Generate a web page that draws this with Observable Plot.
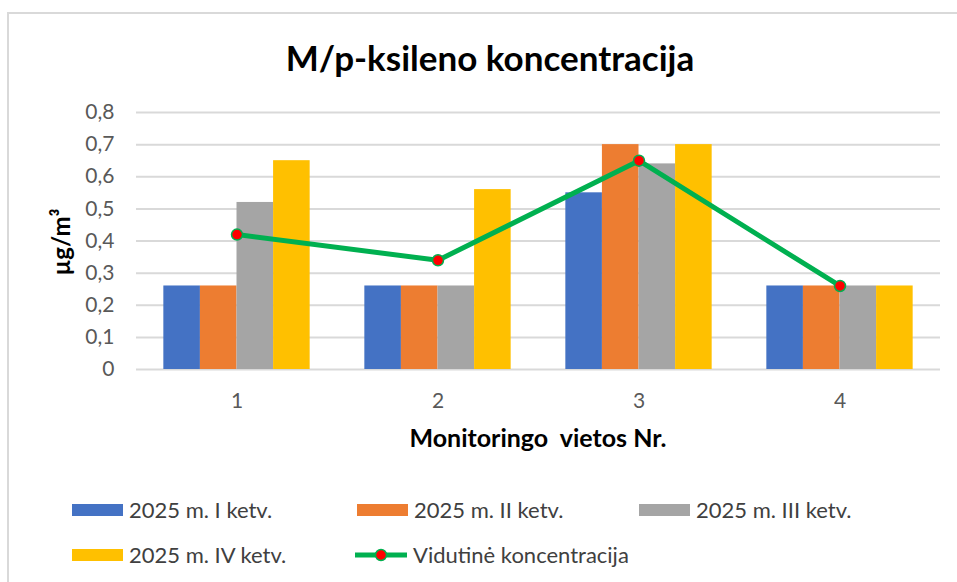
<!DOCTYPE html>
<html>
<head>
<meta charset="utf-8">
<script src="https://cdn.jsdelivr.net/npm/d3@7"></script>
<script src="https://cdn.jsdelivr.net/npm/@observablehq/plot@0.6"></script>
<style>
  html, body { margin: 0; padding: 0; background: #fff; }
  #wrap { position: relative; width: 957px; height: 582px; overflow: hidden; font-family: Lato, "Open Sans", sans-serif; }
  #frame { position: absolute; left: 7px; top: 12px; width: 980px; height: 620px; border: 2px solid #d9d9d9; box-sizing: border-box; }
  #title { position: absolute; left: 0; width: 980px; top: 36px; text-align: center; font-weight: bold; font-size: 35px; color: #000; line-height: 1.2; }
  #plot { position: absolute; left: 0; top: 0; }
  #ylab { position: absolute; left: 60px; top: 242px; transform: translate(-50%, -50%) rotate(-90deg); font-weight: bold; font-size: 24px; color: #000; white-space: nowrap; }
  #xlab { position: absolute; left: 538px; top: 422px; transform: translateX(-50%); font-weight: bold; font-size: 25px; line-height: 1.2; color: #000; white-space: pre; }
  .leg { position: absolute; display: flex; align-items: center; font-size: 22px; color: #404040; white-space: nowrap; }
  .sw { width: 51px; height: 12px; margin-right: 6px; }
</style>
</head>
<body>
<div id="wrap">
  <div id="frame"></div>
  <div id="title">M/p-ksileno koncentracija</div>
  <div id="plot"></div>
  <div id="ylab">µg/m³</div>
  <div id="xlab">Monitoringo  vietos Nr.</div>
  <div id="legend"></div>
</div>
<script>
// Data
const groups = [1, 2, 3, 4];
const seriesNames = ["2025 m. I ketv.", "2025 m. II ketv.", "2025 m. III ketv.", "2025 m. IV ketv."];
const seriesColors = ["#4472C4", "#ED7D31", "#A5A5A5", "#FFC000"];
const q1 = [0.26, 0.26, 0.55, 0.26];
const q2 = [0.26, 0.26, 0.70, 0.26];
const q3 = [0.52, 0.26, 0.64, 0.26];
const q4 = [0.65, 0.56, 0.70, 0.26];
const averageName = "Vidutinė koncentracija";
const average = [0.42, 0.34, 0.65, 0.26];
const yTicks = [0, 0.1, 0.2, 0.3, 0.4, 0.5, 0.6, 0.7, 0.8];

const seriesValues = [q1, q2, q3, q4];
const barWidth = 0.182;
const bars = [];
seriesValues.forEach((vals, i) => {
  vals.forEach((v, j) => {
    bars.push({group: groups[j], series: seriesNames[i], i, value: v});
  });
});
const avgData = groups.map((g, j) => ({group: g, value: average[j]}));

const fmt = d => d === 0 ? "0" : d.toFixed(1).replace(".", ",");

const chart = Plot.plot({
  width: 957,
  height: 460,
  marginTop: 112,
  marginBottom: 91,
  marginLeft: 136,
  marginRight: 17,
  style: {fontFamily: "Lato, 'Open Sans', sans-serif", fontSize: "21px", background: "transparent"},
  x: {domain: [0.5, 4.5], ticks: groups, tickFormat: d => String(d), tickSize: 0, tickPadding: 24, label: null},
  y: {domain: [0, 0.8], ticks: yTicks, tickFormat: fmt, tickSize: 0, tickPadding: 22, label: null},
  color: {domain: seriesNames, range: seriesColors},
  marks: [
    Plot.gridY(yTicks, {stroke: "#d9d9d9", strokeOpacity: 1, strokeWidth: 2}),
    Plot.rectY(bars, {
      x1: d => d.group - 2 * barWidth + d.i * barWidth,
      x2: d => d.group - 2 * barWidth + (d.i + 1) * barWidth,
      y1: 0,
      y2: "value",
      fill: "series",
      inset: 0
    }),
    Plot.line(avgData, {x: "group", y: "value", stroke: "#00B050", strokeWidth: 5}),
    Plot.dot(avgData, {x: "group", y: "value", r: 5.5, fill: "#FF0000", stroke: "#00B050", strokeWidth: 1.5})
  ]
});
chart.querySelectorAll('[aria-label="x-axis tick label"], [aria-label="y-axis tick label"]').forEach(g => g.setAttribute("fill", "#595959"));
document.getElementById("plot").appendChild(chart);

// Legend
const legend = document.getElementById("legend");
const pos = [[72, 510], [357, 510], [639, 510], [72, 555]];
seriesNames.forEach((name, i) => {
  const item = document.createElement("div");
  item.className = "leg";
  item.style.left = pos[i][0] + "px";
  item.style.top = (pos[i][1] - 14) + "px";
  item.innerHTML = `<div class="sw" style="background:${seriesColors[i]}"></div><span>${name}</span>`;
  legend.appendChild(item);
});
const li = document.createElement("div");
li.className = "leg";
li.style.left = "355px";
li.style.top = (555 - 14) + "px";
li.innerHTML = `<svg width="52" height="14" style="margin-right:6px"><line x1="0" y1="7" x2="52" y2="7" stroke="#00B050" stroke-width="5"/><circle cx="26" cy="7" r="5.5" fill="#FF0000" stroke="#00B050" stroke-width="1.5"/></svg><span>${averageName}</span>`;
legend.appendChild(li);
</script>
</body>
</html>
